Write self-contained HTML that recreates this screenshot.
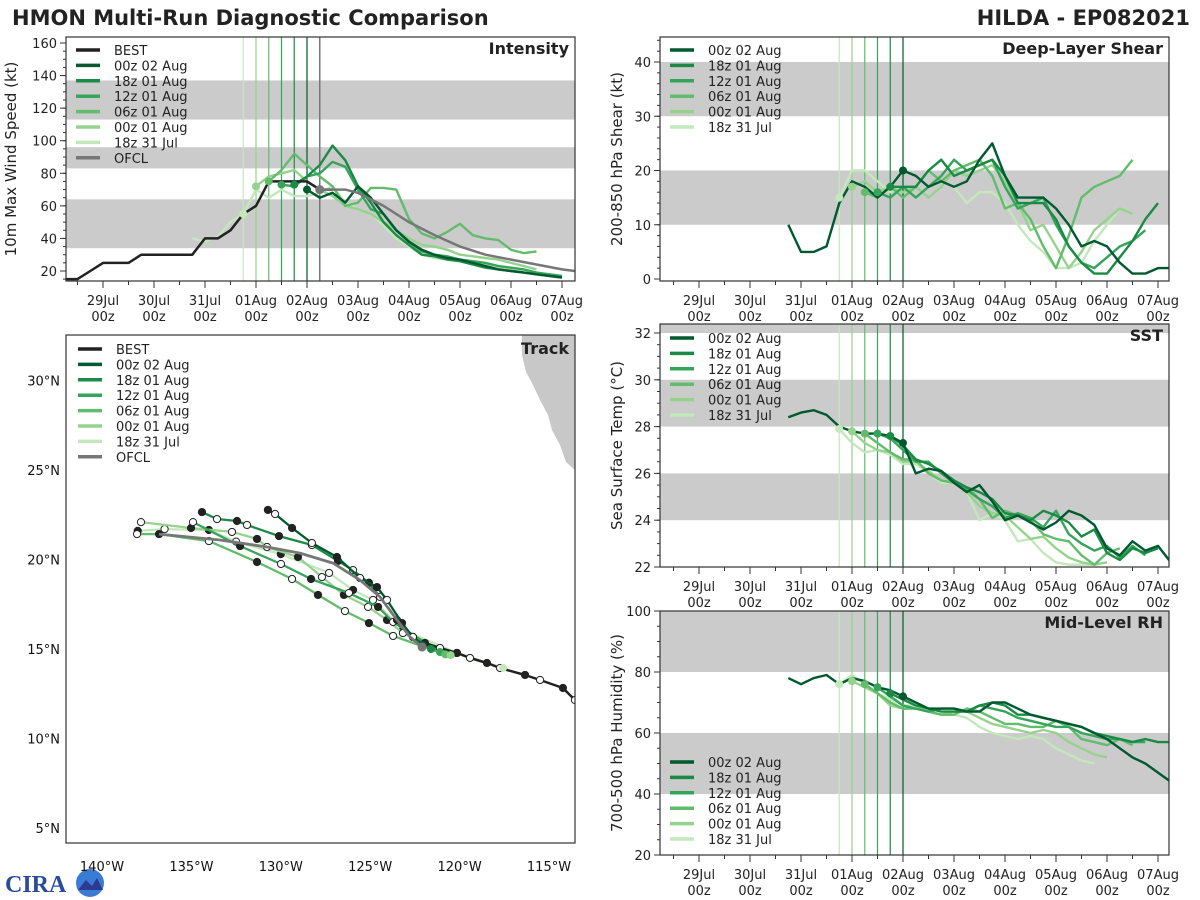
<!DOCTYPE html>
<html><head><meta charset="utf-8"><style>
body{margin:0;background:#fff;}
svg{display:block;font-family:"DejaVu Sans","Liberation Sans",sans-serif;}
</style></head><body>
<svg id="fig" width="1200" height="900" viewBox="0 0 1200 900" xmlns="http://www.w3.org/2000/svg">
<text x="12" y="25" font-size="21" font-weight="bold" fill="#222">HMON Multi-Run Diagnostic Comparison</text>
<text x="1190" y="25" font-size="21" font-weight="bold" fill="#222" text-anchor="end">HILDA - EP082021</text>
<g>
<text x="5" y="892" font-size="24" font-weight="bold" fill="#2a4a9a" font-family="Liberation Serif,serif">CIRA</text>
<circle cx="90" cy="883" r="14" fill="#3a7bd5"/>
<path d="M78 890 L86 880 L92 886 L97 878 L103 890 Z" fill="#2b3b8f"/>
</g>
</svg>
<script>
// ---------------- DATA ----------------
const runNames = ["00z 02 Aug","18z 01 Aug","12z 01 Aug","06z 01 Aug","00z 01 Aug","18z 31 Jul"];
const runStarts = [4.0,3.75,3.5,3.25,3.0,2.75]; // days since 29Jul 00z
const dayLabels = ["29Jul","30Jul","31Jul","01Aug","02Aug","03Aug","04Aug","05Aug","06Aug","07Aug"];
const bestStart = -0.75;
const bestVmax = [15,15,20,25,25,25,30,30,30,30,30,40,40,45,55,60,75,75,75,75,70,70];
const ofclTimes = [4.25,4.75,5.0,5.5,6.0,6.5,7.0,7.5,8.0,8.5,9.0,9.25];
const ofclVmax = [70,70,68,60,50,42,35,30,27,24,21,20];
const vmax00z02 = [70,65,68,62,72,65,55,45,38,33,30,28,27,25,23,21,20,19,18,17,16];
const vmax18z01 = [73,78,85,97,88,72,62,50,42,36,30,29,27,26,24,22,21,20,19,18,17,16];
const vmax12z01 = [73,72,78,80,87,84,70,58,55,45,38,32,30,29,27,26,25,23,22,21,19,18,17];
const vmax06z01 = [75,82,92,85,78,72,60,62,71,71,70,52,43,40,44,49,42,40,39,33,31,32];
const vmax00z01 = [72,78,80,82,75,70,66,60,58,55,50,45,40,36,35,33,30,29,28,27,25,23,21];
const vmax18z31 = [55,70,65,70,66,66,68,72,62,58,55,48,40,35,30,28,27,26,25,24,22,21,20];
const earlyStart = 1.75;
const vmaxEarly = [40,38,41,50,55];

const shear00z02 = [10,5,5,6,14,18,17,15,17,20,19,17,18,17,18,22,25,19,15,15,15,13,10,6,7,6,3,1,1,2,2];
const shear00z02Start = 1.75;
const shear18z01 = [17,17,17,20,22,19,20,21,22,19,14,14,14,11,6,3,1,1,4,7,11,14];
const shear12z01 = [16,15,17,15,17,19,22,20,21,22,17,13,14,15,10,6,3,2,4,6,7,9];
const shear06z01 = [16,15,17,15,17,20,18,20,21,22,19,13,14,11,6,2,8,15,17,18,19,22];
const shear00z01 = [17,18,16,17,16,17,15,17,20,19,20,21,18,14,9,10,6,2,5,9,11,13,12];
const shear18z31 = [15,20,20,18,16,17,15,17,18,17,14,16,16,14,10,7,5,2,2,3,7,10,13,12];

const sst00z02 = [28.4,28.6,28.7,28.5,28.0,27.8,27.7,27.7,27.6,27.3,26.0,26.2,26.1,25.6,25.2,25.5,24.8,24.0,24.2,23.9,23.6,23.9,24.4,24.2,23.8,22.8,22.5,23.1,22.7,22.9,22.2];
const sst00z02Start = 1.75;
const sst18z01 = [27.6,27.2,26.6,26.4,26.1,25.7,25.4,25.2,24.9,24.3,24.2,24.0,24.4,24.2,23.9,23.3,23.6,22.6,22.3,22.8,22.6,22.8];
const sst12z01 = [27.7,27.5,27.0,26.5,26.5,26.0,25.6,25.3,24.9,24.6,24.1,24.3,24.1,23.7,24.4,23.4,23.0,22.7,22.9,22.4,22.9,22.5];
const sst06z01 = [27.7,27.3,26.9,26.6,26.6,26.0,25.7,25.6,25.4,24.9,24.1,24.4,24.2,24.0,23.4,23.2,23.1,22.5,22.1,22.6,22.8];
const sst00z01 = [27.8,27.3,27.0,26.9,26.5,26.5,26.1,25.7,25.6,25.2,24.6,24.3,24.2,23.7,23.2,23.3,22.8,22.4,22.2,22.1,22.2];
const sst18z31 = [27.9,27.3,26.9,27.0,26.8,26.4,26.4,26.0,25.6,25.6,25.2,24.0,24.3,24.0,23.1,23.2,22.6,22.2,22.1,22.1,22.1];

const rh00z02 = [78,76,78,79,76,78,77,75,74,72,70,68,68,68,67,67,70,70,68,66,65,64,63,62,60,58,55,52,50,47,44,43];
const rh00z02Start = 1.75;
const rh18z01 = [73,71,69,68,67,67,67,69,70,69,66,66,65,64,63,62,60,59,58,57,58,57,57];
const rh12z01 = [75,72,69,68,67,68,68,67,69,68,67,65,64,63,62,62,60,59,58,58,57,57];
const rh06z01 = [76,73,70,68,68,67,66,66,68,67,65,63,63,62,62,64,62,58,57,56,58,56];
const rh00z01 = [77,75,73,69,68,68,67,66,67,67,65,63,62,61,60,61,60,57,55,53,52];
const rh18z31 = [76,79,76,73,71,69,69,67,66,66,65,62,60,59,58,59,58,55,53,51,50];

// tracks: [lon, lat] (init -> end)
const trackBest = [[-112.9,11.7],[-113.55,12.15],[-114.22,12.82],[-115.5,13.27],[-116.34,13.55],[-117.74,13.94],[-118.47,14.22],[-119.42,14.5],[-120.15,14.78],[-121.1,15.06],[-121.94,15.34]];
const track00z02 = [[-122.05,15.22],[-122.61,15.67],[-123.22,16.45],[-124.06,17.74],[-124.62,18.46],[-125.57,18.97],[-126.86,20.14],[-128.26,20.92],[-129.37,21.76],[-130.32,22.54],[-130.72,22.77]];
const track18z01 = [[-121.6,15.0],[-122.61,15.67],[-123.5,16.62],[-124.45,17.91],[-125.07,18.7],[-125.96,19.41],[-126.8,19.92],[-128.26,20.81],[-130.10,21.31],[-131.89,21.93],[-132.45,22.15],[-133.57,22.26],[-134.41,22.65]];
const track12z01 = [[-121.1,14.83],[-123.72,16.51],[-124.56,17.35],[-126.19,18.13],[-128.31,18.91],[-129.99,19.75],[-132.28,20.75],[-134.91,22.09]];
const track06z01 = [[-120.8,14.7],[-123.72,15.73],[-125.07,16.45],[-126.41,17.12],[-127.92,18.02],[-129.37,18.91],[-131.33,19.86],[-134.02,21.03],[-136.81,21.42],[-138.04,21.42]];
const track00z01 = [[-120.5,14.66],[-123.17,15.89],[-124.06,16.62],[-125.12,17.35],[-126.47,18.02],[-127.7,19.02],[-129.04,20.14],[-130.77,20.7],[-131.33,21.15],[-132.73,21.54],[-135.02,21.76],[-137.82,22.09]];
const track18z31 = [[-117.57,13.94],[-120.15,14.78],[-123.17,16.06],[-124.84,17.74],[-125.96,18.30],[-127.30,19.25],[-130.0,20.3],[-132.5,21.0],[-134.02,21.65],[-136.5,21.7],[-138.0,21.6]];
const trackOfcl = [[-122.10,15.11],[-122.77,15.67],[-123.50,16.62],[-124.45,17.91],[-125.57,18.85],[-127.08,19.80],[-128.93,20.36],[-130.77,20.70],[-133.40,21.09],[-136.81,21.42]];

// ---------------- RENDER ----------------
const NS="http://www.w3.org/2000/svg";
const fig=document.getElementById('fig');
const runColors=['#00592f','#1b8a45','#36a45a','#63bc6c','#95d38d','#c2e8bb'];
function mk(tag,at,parent){const e=document.createElementNS(NS,tag);for(const k in at)e.setAttribute(k,at[k]);(parent||fig).appendChild(e);return e;}
function txt(s,at,parent){const e=mk('text',at,parent);e.textContent=s;return e;}

function timePanel(opt){
  const g=mk('g',{});
  
  
  const L=opt.x0,R=opt.x1,T=opt.y0,B=opt.y1;
  const xs=d=>opt.day0x+d*51;
  const ys=v=>opt.vy0+(v-opt.v0)*(opt.vy1-opt.vy0)/(opt.v1-opt.v0);
  const cid='clip-'+opt.name;
  const cp=mk('clipPath',{id:cid},g);mk('rect',{x:L,y:T,width:R-L,height:B-T},cp);
  const pg=mk('g',{'clip-path':'url(#'+cid+')'},g);
  opt.bands.forEach(b=>{const r=mk('rect',{x:L,y:ys(b[1]),width:R-L,height:ys(b[0])-ys(b[1]),fill:'#cbcbcb'},pg);
    });
  runStarts.forEach((s,i)=>{const l=mk('line',{x1:xs(s),x2:xs(s),y1:T,y2:B,stroke:runColors[i],'stroke-width':1.2},pg);
    });
  if(opt.ofcl){const l=mk('line',{x1:xs(4.25),x2:xs(4.25),y1:T,y2:B,stroke:'#777','stroke-width':1.5},pg);
    }
  const line=(vals,start,color,w,nm)=>{const p=vals.map((v,i)=>xs(start+i*0.25).toFixed(1)+','+ys(v).toFixed(1)).join(' ');
    const e=mk('polyline',{points:p,fill:'none',stroke:color,'stroke-width':w,'stroke-linejoin':'round'},pg);
    return e;};
  opt.drawSeries(line,xs,ys,pg);
  opt.series.forEach((sv,i)=>{const c=mk('circle',{cx:xs(runStarts[i]),cy:ys(sv[0]),r:4,fill:runColors[i]},pg);
    });
  mk('rect',{x:L,y:T,width:R-L,height:B-T,fill:'none',stroke:'#333','stroke-width':1.2},g);
  for(let h=-1.5;h<=9.5;h+=0.5){const x=xs(h);if(x<L||x>R)continue;const maj=Math.abs(h-Math.round(h))<1e-6;
    mk('line',{x1:x,x2:x,y1:B,y2:B+(maj?7:4),stroke:'#333','stroke-width':1},g);}
  dayLabels.forEach((d,i)=>{const x=xs(i);
    const t1=txt(d,{x:x,y:B+24,'font-size':13,'text-anchor':'middle',fill:'#222'},g);
    const t2=txt('00z',{x:x,y:B+40,'font-size':13,'text-anchor':'middle',fill:'#222'},g);});
  for(let v=opt.minorStart;v<=opt.v1+1e-6;v+=opt.minor){const y=ys(v);if(y<T-0.5||y>B+0.5)continue;
    mk('line',{x1:L-3,x2:L,y1:y,y2:y,stroke:'#333'},g);}
  opt.yticks.forEach(v=>{const y=ys(v);mk('line',{x1:L-6,x2:L,y1:y,y2:y,stroke:'#333'},g);
    const t=txt(String(v),{x:L-9,y:y+5,'font-size':13,'text-anchor':'end',fill:'#222'},g);});
  const yl=txt(opt.ylabel,{x:0,y:0,'font-size':15,'text-anchor':'middle',fill:'#222',transform:`translate(${opt.ylabX},${(T+B)/2}) rotate(-90)`},g);
  
  const tt=txt(opt.title,{x:R-6,y:T+17,'font-size':16,'font-weight':'bold','text-anchor':'end',fill:'#222'},g);
  
  legend(g,L+10,opt.legY,opt.legItems);
}
function legend(g,x,y,items){
  const lg=mk('g',{},g);
  items.forEach((it,i)=>{const yy=y+i*15.4;
    const e=mk('g',{},lg);
    mk('line',{x1:x,x2:x+24,y1:yy,y2:yy,stroke:it[1],'stroke-width':3.5},e);
    txt(it[0],{x:x+38,y:yy+5,'font-size':13,fill:'#222'},e);});
}
const runLegend=runNames.map((n,i)=>[n,runColors[i]]);

const vmaxSeries=[vmax00z02,vmax18z01,vmax12z01,vmax06z01,vmax00z01,vmax18z31];
timePanel({name:'intensity-panel',x0:66,x1:575,y0:37,y1:281,day0x:103,v0:20,v1:160,vy0:271,vy1:43,
  bands:[[34,64],[83,96],[113,137]],yticks:[20,40,60,80,100,120,140,160],minor:5,minorStart:15,
  ylabel:'10m Max Wind Speed (kt)',ylabX:16,title:'Intensity',legY:50,ofcl:true,series:vmaxSeries,
  legItems:[['BEST','#222']].concat(runLegend,[['OFCL','#777']]),
  drawSeries:(line,xs,ys,pg)=>{
    line(vmaxEarly,earlyStart,runColors[5],2.2,'model-early-line');
    for(let i=5;i>=0;i--)line(vmaxSeries[i],runStarts[i],runColors[i],2.4,'model-intensity-line');
    line(bestVmax,bestStart,'#222',2.5,'best-intensity-line');
    const p=ofclTimes.map((t,i)=>xs(t)+','+ys(ofclVmax[i])).join(' ');
    const e=mk('polyline',{points:p,fill:'none',stroke:'#777','stroke-width':2.5},pg);
    
    const c=mk('circle',{cx:xs(ofclTimes[0]),cy:ys(ofclVmax[0]),r:4.5,fill:'#777'},pg);
    
  }});

const shearSeries=[shear00z02.slice(9),shear18z01,shear12z01,shear06z01,shear00z01,shear18z31];
timePanel({name:'shear-panel',x0:660,x1:1169,y0:37,y1:281,day0x:699,v0:0,v1:45,vy0:279,vy1:279-45*5.425,
  bands:[[10,20],[30,40]],yticks:[0,10,20,30,40],minor:2,minorStart:0,
  ylabel:'200-850 hPa Shear (kt)',ylabX:622,title:'Deep-Layer Shear',legY:50,series:shearSeries,legItems:runLegend,
  drawSeries:(line)=>{for(let i=5;i>=1;i--)line(shearSeries[i],runStarts[i],runColors[i],2.4,'model-shear-line');
    line(shear00z02,shear00z02Start,runColors[0],2.4,'model-shear-line');}});

const sstSeries=[sst00z02.slice(9),sst18z01,sst12z01,sst06z01,sst00z01,sst18z31];
timePanel({name:'sst-panel',x0:660,x1:1169,y0:324,y1:567,day0x:699,v0:22,v1:32.4,vy0:567,vy1:567-10.4*23.4,
  bands:[[24,26],[28,30],[32,34]],yticks:[22,24,26,28,30,32],minor:0.5,minorStart:22,
  ylabel:'Sea Surface Temp (°C)',ylabX:622,title:'SST',legY:338,series:sstSeries,legItems:runLegend,
  drawSeries:(line)=>{for(let i=5;i>=1;i--)line(sstSeries[i],runStarts[i],runColors[i],2.4,'model-sst-line');
    line(sst00z02,sst00z02Start,runColors[0],2.4,'model-sst-line');}});

const rhSeries=[rh00z02.slice(9),rh18z01,rh12z01,rh06z01,rh00z01,rh18z31];
timePanel({name:'rh-panel',x0:660,x1:1169,y0:611,y1:855,day0x:699,v0:20,v1:100,vy0:855,vy1:611,
  bands:[[40,60],[80,100]],yticks:[20,40,60,80,100],minor:5,minorStart:20,
  ylabel:'700-500 hPa Humidity (%)',ylabX:622,title:'Mid-Level RH',legY:762,series:rhSeries,legItems:runLegend,
  drawSeries:(line)=>{for(let i=5;i>=1;i--)line(rhSeries[i],runStarts[i],runColors[i],2.4,'model-rh-line');
    line(rh00z02,rh00z02Start,runColors[0],2.4,'model-rh-line');}});

(function(){
  const g=mk('g',{});
  const L=66,R=575,T=335,B=843;
  const lx=lon=>549+(lon+115)*17.88, ly=lat=>649-(lat-15)*17.9;
  const cp=mk('clipPath',{id:'clip-track'},g);mk('rect',{x:L,y:T,width:R-L,height:B-T},cp);
  const pg=mk('g',{'clip-path':'url(#clip-track)'},g);
  const land=mk('polygon',{points:'522,335 575,335 575,470 566,462 560,445 552,430 548,415 540,400 533,385 526,372 522,355',fill:'#c8c8c8'},pg);
  
  const tr=(pts,color,w,nm,dots)=>{
    const e=mk('polyline',{points:pts.map(p=>lx(p[0]).toFixed(1)+','+ly(p[1]).toFixed(1)).join(' '),fill:'none',stroke:color,'stroke-width':w,'stroke-linejoin':'round'},pg);
    
    if(dots)pts.forEach((p,i)=>{if(i==0)return;const c=mk('circle',{cx:lx(p[0]),cy:ly(p[1]),r:3.6,fill:i%2?'#fff':'#222',stroke:'#222','stroke-width':1},pg);
      });};
  const tracks=[track00z02,track18z01,track12z01,track06z01,track00z01,track18z31];
  for(let i=5;i>=0;i--)tr(tracks[i],runColors[i],2.3,'model-track-line',true);
  tr(trackOfcl,'#777',2.8,'ofcl-track-line',false);
  tr(trackBest,'#222',2.5,'best-track-line',true);
  tracks.forEach((t,i)=>{const c=mk('circle',{cx:lx(t[0][0]),cy:ly(t[0][1]),r:4,fill:runColors[i]},pg);
    });
  const oc=mk('circle',{cx:lx(trackOfcl[0][0]),cy:ly(trackOfcl[0][1]),r:4.5,fill:'#777'},pg);
  
  
  mk('rect',{x:L,y:T,width:R-L,height:B-T,fill:'none',stroke:'#333','stroke-width':1.2},g);
  [-140,-135,-130,-125,-120,-115].forEach(lon=>{const t=txt((-lon)+'°W',{x:lx(lon),y:871,'font-size':13,'text-anchor':'middle',fill:'#111'},g);
    });
  [30,25,20,15,10,5].forEach(lat=>{const t=txt(lat+'°N',{x:L-6,y:ly(lat)+5,'font-size':13,'text-anchor':'end',fill:'#111'},g);
    });
  const tt=txt('Track',{x:R-6,y:T+19,'font-size':16,'font-weight':'bold','text-anchor':'end',fill:'#222'},g);
  
  legend(g,L+12,349,[['BEST','#222']].concat(runLegend,[['OFCL','#777']]));
})();
</script>
</body></html>
